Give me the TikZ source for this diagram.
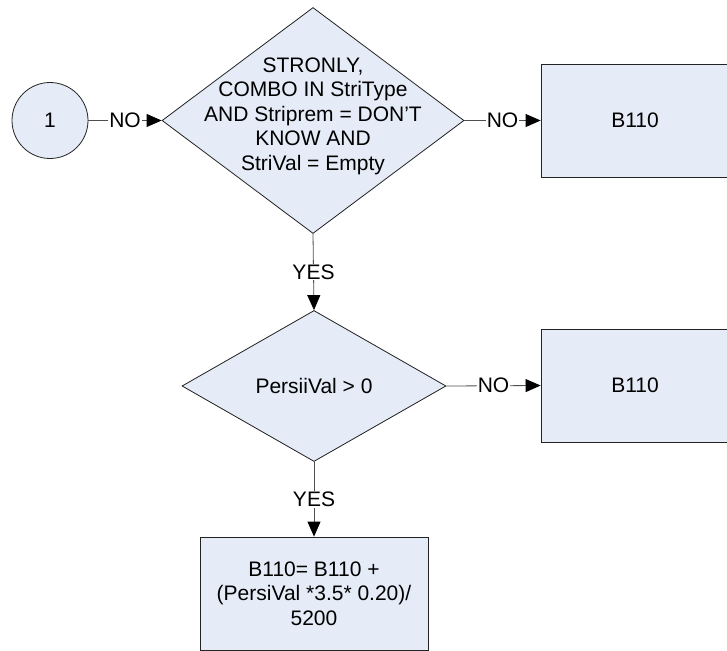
\documentclass[tikz,border=0pt]{standalone}
\usepackage{fontspec}
\setmainfont{Liberation Sans}
\usetikzlibrary{arrows.meta,shapes.geometric,positioning}
\definecolor{FLOW-FILL}{RGB}{229, 236, 247}
\definecolor{FLOW-LINE}{RGB}{35, 35, 35}

\begin{document}
\begin{tikzpicture}[x=1pt,y=-1pt,
  every node/.style={font=\fontsize{21}{24.5}\selectfont},
  decision/.style={diamond, draw=FLOW-LINE, fill=FLOW-FILL, line width=0.8pt, inner sep=0pt},
  process/.style={rectangle, draw=FLOW-LINE, fill=FLOW-FILL, line width=0.8pt,
    minimum width=188pt, minimum height=113pt, align=center},
  connector/.style={circle, draw=FLOW-LINE, fill=FLOW-FILL, line width=0.8pt, minimum size=76pt},
  flow/.style={-{Triangle[length=15pt,width=13pt,black]}, FLOW-LINE!80, line width=0.8pt},
  answer/.style={fill=white, text=black, inner sep=1pt}]
  \useasboundingbox (0,0) rectangle (727,650);
  \clip (0,0) rectangle (727,650);

  % Off-page connector
  \node[connector] (conn) at (50,120.5) {1};

  % First decision
  \node[decision, minimum width=302pt, minimum height=226pt] (cond1) at (313,120.5) {};
  \node[align=center] (cond1txt) at (313,116) {STRONLY,\\COMBO IN StriType\\AND Striprem = DON'T\\KNOW AND\\StriVal = Empty};
  \node[process] (res1) at (635,120.5) {B110};

  % Second decision
  \node[decision, minimum width=264pt, minimum height=151pt] (cond2) at (314,386) {};
  \node (cond2txt) at (314,386) {PersiiVal > 0};
  \node[process] (res2) at (635,385.5) {B110};

  % Calculation
  \node[process, minimum width=228pt] (calc) at (314,593.5) {B110= B110 +\\(PersiVal *3.5* 0.20)/\\5200};

  % Connectors
  \draw[flow] (conn.east) -- (cond1.west) node[answer, midway] {NO};
  \draw[flow] (cond1.east) -- (res1.west) node[answer, midway] {NO};
  \draw[flow] (cond1.south) -- (cond2.north) node[answer, midway] {YES};
  \draw[flow] (cond2.east) -- (res2.west) node[answer, midway] {NO};
  \draw[flow] (cond2.south) -- (calc.north) node[answer, midway] {YES};
\end{tikzpicture}
\end{document}
